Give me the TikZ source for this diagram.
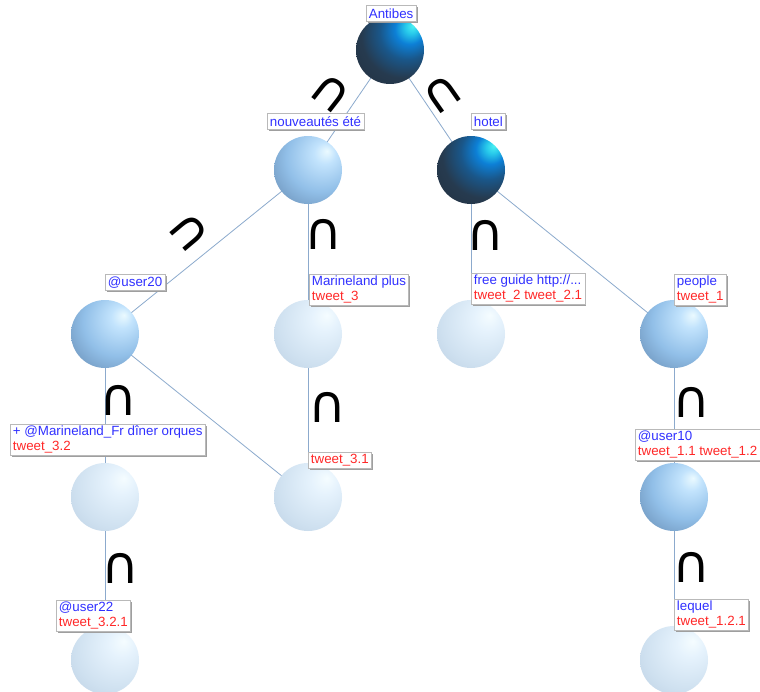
\documentclass[tikz,border=0pt]{standalone}
\usepackage{fontspec}
\setmainfont{Liberation Sans}
\newfontfamily\symfont{DejaVu Sans}
\usetikzlibrary{shadows}
\pgfdeclarelayer{bg}
\pgfdeclarelayer{edges}
\pgfsetlayers{bg,edges,main}
\definecolor{tblue}{RGB}{48,48,255}
\definecolor{tred}{RGB}{255,40,40}
\definecolor{edgec}{RGB}{140,170,205}
\pgfdeclareradialshading{darkball}{\pgfqpoint{17bp}{18bp}}{rgb(0bp)=(0.3,0.95,0.95); rgb(5bp)=(0.15,0.78,0.92); rgb(11bp)=(0.05,0.5,0.84); rgb(20bp)=(0.1,0.34,0.54); rgb(31bp)=(0.15,0.23,0.31); rgb(50bp)=(0.13,0.18,0.24); rgb(75bp)=(0.12,0.17,0.22)}
\pgfdeclareradialshading{medball}{\pgfqpoint{14bp}{14bp}}{rgb(0bp)=(0.92,0.98,1.0); rgb(8bp)=(0.76,0.89,0.99); rgb(25bp)=(0.57,0.75,0.91); rgb(45bp)=(0.39,0.53,0.68); rgb(70bp)=(0.3,0.42,0.55)}
\pgfdeclareradialshading{lightball}{\pgfqpoint{14bp}{14bp}}{rgb(0bp)=(0.96,0.99,1.0); rgb(10bp)=(0.9,0.95,0.99); rgb(30bp)=(0.81,0.88,0.94); rgb(50bp)=(0.71,0.79,0.87); rgb(70bp)=(0.66,0.74,0.83)}
\begin{document}
\begin{tikzpicture}[x=0.75pt,y=-0.75pt,
  sphere/.style={circle, inner sep=0pt, minimum size=51pt},
  darks/.style={sphere, shading=darkball},
  meds/.style={sphere, shading=medball},
  lights/.style={sphere, shading=lightball},
  edge/.style={draw=edgec, line width=0.6pt},
  lbl/.style={draw=gray!55, fill=white, inner xsep=2pt, inner ysep=1.2pt, minimum height=12pt,
    align=left, anchor=north west, font=\fontsize{10}{11.5}\selectfont,
    drop shadow={shadow xshift=1.2pt, shadow yshift=-1.2pt, fill=gray!75, opacity=1}},
  capsym/.style={font=\symfont\fontsize{39}{39}\selectfont, inner sep=0pt, text=black}]
\useasboundingbox (0,0) rectangle (760,692);
\begin{pgfonlayer}{bg}
\fill[white] (0,0) rectangle (760,692);
\end{pgfonlayer}
% spheres
\node[darks] (antibes) at (390,50) {};
\node[meds] (nouv) at (308,170) {};
\node[darks] (hotel) at (471,170) {};
\node[meds] (user20) at (105,334) {};
\node[lights] (mplus) at (308,334) {};
\node[lights] (fguide) at (471,334) {};
\node[meds] (people) at (674,334) {};
\node[lights] (t32) at (105,497) {};
\node[lights] (t31) at (308,497) {};
\node[meds] (user10) at (674,497) {};
\node[lights] (user22) at (105,660) {};
\node[lights] (lequel) at (674,660) {};
% edges
\begin{pgfonlayer}{edges}
\draw[edge] (antibes.center) -- (nouv.center);
\draw[edge] (antibes.center) -- (hotel.center);
\draw[edge] (nouv.center) -- (user20.center);
\draw[edge] (nouv.center) -- (mplus.center);
\draw[edge] (hotel.center) -- (fguide.center);
\draw[edge] (hotel.center) -- (people.center);
\draw[edge] (user20.center) -- (t32.center);
\draw[edge] (user20.center) -- (t31.center);
\draw[edge] (mplus.center) -- (t31.center);
\draw[edge] (t32.center) -- (user22.center);
\draw[edge] (people.center) -- (user10.center);
\draw[edge] (user10.center) -- (lequel.center);
\end{pgfonlayer}
% labels
\node[lbl] (lantibes) at (366,5) {\textcolor{tblue}{Antibes}};
\node[lbl] (lnouv) at (267,113) {\textcolor{tblue}{nouveautés été}};
\node[lbl] (lhotel) at (471,113) {\textcolor{tblue}{hotel}};
\node[lbl] (luser20) at (105,274) {\textcolor{tblue}{@user20}};
\node[lbl] (lmplus) at (309,274) {\textcolor{tblue}{Marineland plus}\\\textcolor{tred}{tweet\_3}};
\node[lbl] (lfguide) at (471,273) {\textcolor{tblue}{free guide http://...}\\\textcolor{tred}{tweet\_2 tweet\_2.1}};
\node[lbl] (lpeople) at (674,274) {\textcolor{tblue}{people}\\\textcolor{tred}{tweet\_1}};
\node[lbl] (lt32) at (10,424) {\textcolor{tblue}{+ @Marineland\_Fr dîner orques}\\\textcolor{tred}{tweet\_3.2}};
\node[lbl] (lt31) at (308,452) {\textcolor{tred}{tweet\_3.1}};
\node[lbl] (luser10) at (635,429) {\textcolor{tblue}{@user10}\\\textcolor{tred}{tweet\_1.1 tweet\_1.2}};
\node[lbl] (luser22) at (56,600) {\textcolor{tblue}{@user22}\\\textcolor{tred}{tweet\_3.2.1}};
\node[lbl] (llequel) at (674,599) {\textcolor{tblue}{lequel}\\\textcolor{tred}{tweet\_1.2.1}};
% intersection symbols
\node[capsym, rotate=-38] (c1) at (331,93) {∩};
\node[capsym, rotate=35] (c2) at (442,94) {∩};
\node[capsym, rotate=-50] (c3) at (189,232) {∩};
\node[capsym] (c4) at (324,234) {∩};
\node[capsym] (c5) at (486,235) {∩};
\node[capsym] (c6) at (119,400) {∩};
\node[capsym] (c7) at (328,407) {∩};
\node[capsym] (c8) at (121,568) {∩};
\node[capsym] (c9) at (692,402) {∩};
\node[capsym] (c10) at (692,567) {∩};
\end{tikzpicture}
\end{document}
